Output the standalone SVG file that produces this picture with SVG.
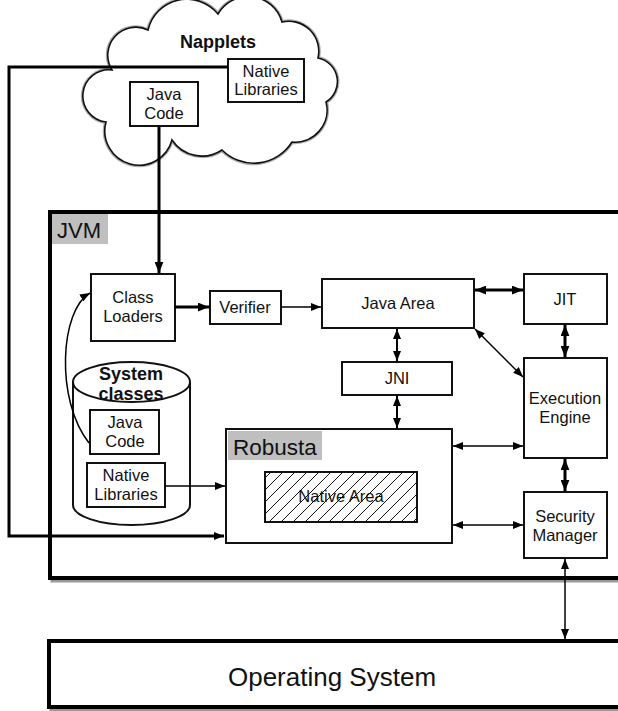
<svg xmlns="http://www.w3.org/2000/svg" width="618" height="711" viewBox="0 0 618 711">
<style>
.box{fill:#fff;stroke:#111;stroke-width:2}
.t{font-family:"Liberation Sans",Arial,sans-serif;font-size:16.5px;fill:#111;text-anchor:middle}
.b{font-weight:bold}
.thick{stroke:#000;stroke-width:3;fill:none}
.med{stroke:#000;stroke-width:2;fill:none}
.thin{stroke:#000;stroke-width:1.5;fill:none}
.lab{fill:#bfbfbf}
.h{stroke:#111;stroke-width:1}
</style>
<defs>
<marker id="a" viewBox="0 0 10 8" refX="10" refY="4" markerWidth="11" markerHeight="9" markerUnits="userSpaceOnUse" orient="auto-start-reverse"><path d="M0,0 L10,4 L0,8 z" fill="#000"/></marker>
<marker id="as" viewBox="0 0 10 8" refX="10" refY="4" markerWidth="10" markerHeight="8" markerUnits="userSpaceOnUse" orient="auto-start-reverse"><path d="M0,0 L10,4 L0,8 z" fill="#000"/></marker>
<clipPath id="nac"><rect x="265" y="472" width="152" height="50"/></clipPath>
</defs>

<g id="jvm">
<rect x="52" y="215" width="570" height="366" fill="none" stroke="#999" stroke-width="3"/>
<rect x="50" y="212" width="570" height="366" fill="#fff" stroke="#000" stroke-width="4"/>
<rect x="52" y="214" width="56" height="30" class="lab"/>
<text x="57" y="238" class="t" style="font-size:22px;text-anchor:start">JVM</text>
</g>

<g id="os">
<rect x="51" y="644" width="580" height="66" fill="none" stroke="#999" stroke-width="3"/>
<rect x="49" y="641" width="580" height="66" fill="#fff" stroke="#000" stroke-width="4"/>
<text x="332" y="686" class="t" style="font-size:26px">Operating System</text>
</g>

<g id="napplets">
<path d="M112,70 A28,28 0 0 1 148,30 A40,40 0 0 1 218,14 A35,35 0 0 1 282,22 A30,30 0 0 1 318,58 A24,24 0 0 1 326,102 A32,32 0 0 1 292,142 A45,45 0 0 1 222,150 A36,36 0 0 1 172,140 A30,30 0 0 1 106,122 A26,26 0 0 1 112,70 Z" fill="#fff" stroke="#aaa" stroke-width="4"/>
<path d="M112,70 A28,28 0 0 1 148,30 A40,40 0 0 1 218,14 A35,35 0 0 1 282,22 A30,30 0 0 1 318,58 A24,24 0 0 1 326,102 A32,32 0 0 1 292,142 A45,45 0 0 1 222,150 A36,36 0 0 1 172,140 A30,30 0 0 1 106,122 A26,26 0 0 1 112,70 Z" fill="#fff" stroke="#111" stroke-width="1.6"/>
<text x="218" y="48" class="t b" style="font-size:18px">Napplets</text>
</g>

<g id="napplet-native">
<rect x="228" y="59" width="76" height="43" class="box"/>
<text x="266" y="77" class="t">Native</text>
<text x="266" y="95" class="t">Libraries</text>
</g>

<g id="napplet-java">
<rect x="130" y="82" width="68" height="44" class="box"/>
<text x="164" y="100" class="t">Java</text>
<text x="164" y="119" class="t">Code</text>
</g>

<g id="classloaders">
<rect x="91" y="274" width="84" height="67" class="box"/>
<text x="133" y="303" class="t">Class</text>
<text x="133" y="322" class="t">Loaders</text>
</g>

<g id="verifier">
<rect x="210" y="291" width="71" height="33" class="box"/>
<text x="245" y="313" class="t">Verifier</text>
</g>

<g id="javaarea">
<rect x="322" y="279" width="152" height="49" class="box"/>
<text x="398" y="309" class="t">Java Area</text>
</g>

<g id="jit">
<rect x="524" y="274" width="83" height="50" class="box"/>
<text x="565" y="305" class="t">JIT</text>
</g>

<g id="jni">
<rect x="342" y="362" width="110" height="33" class="box"/>
<text x="397" y="384" class="t">JNI</text>
</g>

<g id="engine">
<rect x="524" y="358" width="83" height="100" class="box"/>
<text x="565" y="404" class="t">Execution</text>
<text x="565" y="423" class="t">Engine</text>
</g>

<g id="security">
<rect x="524" y="492" width="83" height="66" class="box"/>
<text x="565" y="522" class="t">Security</text>
<text x="565" y="541" class="t">Manager</text>
</g>

<g id="robusta">
<rect x="226" y="429" width="226" height="114" class="box"/>
<rect x="228" y="431" width="94" height="29" class="lab"/>
<text x="233" y="455" class="t" style="font-size:22.5px;text-anchor:start">Robusta</text>
<rect x="265" y="472" width="152" height="50" fill="#fff"/>
<g clip-path="url(#nac)">
<line class="h" x1="221" y1="522" x2="271" y2="472"/>
<line class="h" x1="233" y1="522" x2="283" y2="472"/>
<line class="h" x1="245" y1="522" x2="295" y2="472"/>
<line class="h" x1="257" y1="522" x2="307" y2="472"/>
<line class="h" x1="269" y1="522" x2="319" y2="472"/>
<line class="h" x1="281" y1="522" x2="331" y2="472"/>
<line class="h" x1="293" y1="522" x2="343" y2="472"/>
<line class="h" x1="305" y1="522" x2="355" y2="472"/>
<line class="h" x1="317" y1="522" x2="367" y2="472"/>
<line class="h" x1="329" y1="522" x2="379" y2="472"/>
<line class="h" x1="341" y1="522" x2="391" y2="472"/>
<line class="h" x1="353" y1="522" x2="403" y2="472"/>
<line class="h" x1="365" y1="522" x2="415" y2="472"/>
<line class="h" x1="377" y1="522" x2="427" y2="472"/>
<line class="h" x1="389" y1="522" x2="439" y2="472"/>
<line class="h" x1="401" y1="522" x2="451" y2="472"/>
<line class="h" x1="413" y1="522" x2="463" y2="472"/>
</g>
<rect x="265" y="472" width="152" height="50" fill="none" stroke="#111" stroke-width="2"/>
<text x="341" y="502" class="t">Native Area</text>
</g>

<g id="systemclasses">
<path d="M73,382 L73,505 A58.5,20 0 0 0 190,505 L190,382" fill="#fff" stroke="#111" stroke-width="2"/>
<ellipse cx="131.5" cy="382" rx="58.5" ry="20" fill="#fff" stroke="#111" stroke-width="2"/>
<text x="131" y="380" class="t b" style="font-size:18px">System</text>
<text x="131" y="400" class="t b" style="font-size:18px">classes</text>
</g>

<g id="sys-java">
<rect x="90" y="410" width="69" height="44" class="box"/>
<text x="125" y="428" class="t">Java</text>
<text x="125" y="447" class="t">Code</text>
</g>

<g id="sys-native">
<rect x="87" y="463" width="78" height="44" class="box"/>
<text x="126" y="481" class="t">Native</text>
<text x="126" y="500" class="t">Libraries</text>
</g>

<g id="connectors">
<polyline points="228,67 9,67 9,536 224,536" class="thick" marker-end="url(#as)"/>
<line x1="159" y1="126" x2="159" y2="273" class="thick" marker-end="url(#a)"/>
<line x1="175" y1="307" x2="209" y2="307" class="thick" marker-end="url(#a)"/>
<line x1="281" y1="307" x2="321" y2="307" class="thin" marker-end="url(#as)"/>
<line x1="475" y1="290" x2="523" y2="290" class="thick" marker-start="url(#a)" marker-end="url(#a)"/>
<line x1="397" y1="329" x2="397" y2="361" class="med" marker-start="url(#as)" marker-end="url(#as)"/>
<line x1="565" y1="325" x2="565" y2="357" class="thick" marker-start="url(#a)" marker-end="url(#a)"/>
<line x1="475" y1="329" x2="523" y2="377" class="thin" marker-start="url(#as)" marker-end="url(#as)"/>
<line x1="397" y1="396" x2="397" y2="428" class="med" marker-start="url(#as)" marker-end="url(#as)"/>
<line x1="453" y1="446" x2="523" y2="446" class="thin" marker-start="url(#as)" marker-end="url(#as)"/>
<line x1="565" y1="459" x2="565" y2="491" class="thick" marker-start="url(#a)" marker-end="url(#a)"/>
<line x1="453" y1="525" x2="523" y2="525" class="thin" marker-start="url(#as)" marker-end="url(#as)"/>
<line x1="565" y1="559" x2="565" y2="639" class="thin" marker-start="url(#as)" marker-end="url(#as)"/>
<line x1="165" y1="486" x2="225" y2="486" class="thin" marker-end="url(#as)"/>
<path d="M89,443 C55,400 60,310 90,293" class="thin" marker-end="url(#as)"/>
</g>
</svg>
